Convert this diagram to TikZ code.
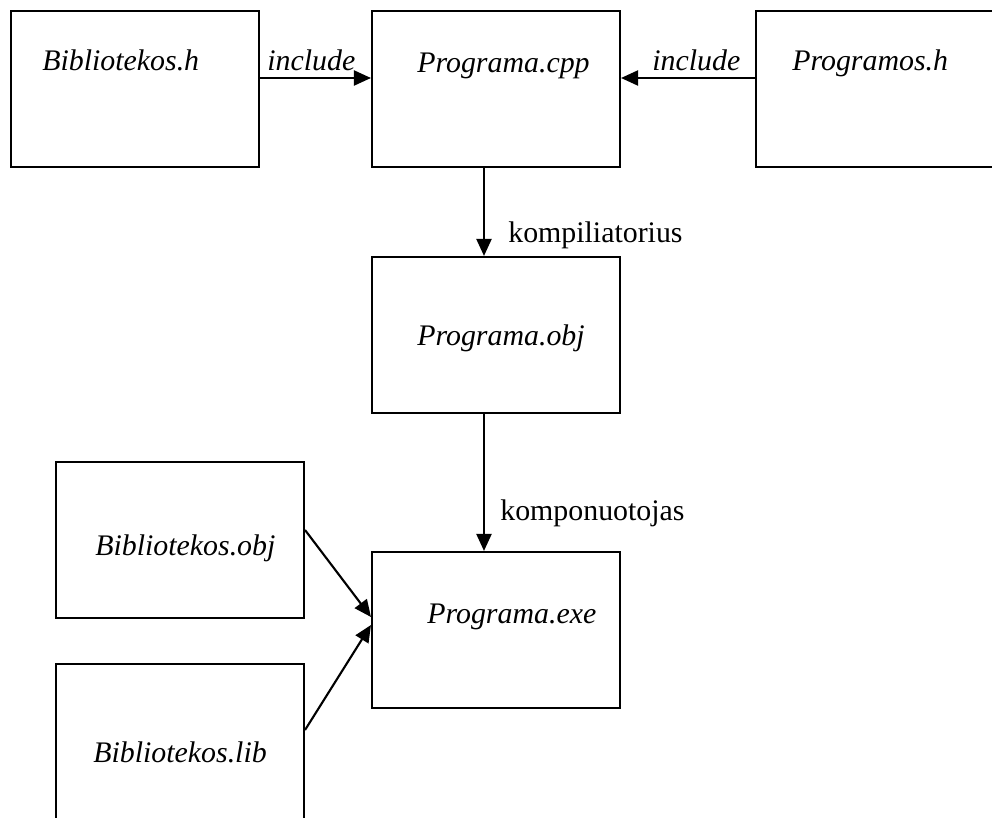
\documentclass[tikz,border=0pt]{standalone}
\usepackage{fontspec}
\setmainfont{Liberation Serif}
\usetikzlibrary{calc,arrows.meta}

\begin{document}
\begin{tikzpicture}[x=0.02cm, y=-0.02cm]
      \tikzstyle{box}=[draw, line width=1.2pt, minimum width=4.96cm, minimum height=3.12cm, inner sep=0];
      \tikzstyle{fname}=[anchor=base west, inner sep=0, font=\fontsize{17}{20}\selectfont\itshape];
      \tikzstyle{tool}=[anchor=base west, inner sep=0, font=\fontsize{17}{20}\selectfont];
      \tikzstyle{arr}=[line width=1.2pt, -{Triangle[length=0.34cm, width=0.3cm]}];

      \useasboundingbox (0, 0) rectangle (992, 818);
      \clip (0, 0) rectangle (992, 818);

      % boxes
      \node[box] (bibh) at (135, 89) {};
      \node[box] (cpp) at (496, 89) {};
      \node[box] (progh) at (880, 89) {};
      \node[box] (obj) at (496, 335) {};
      \node[box] (exe) at (496, 630) {};
      \node[box] (bobj) at (180, 540) {};
      \node[box] (blib) at (180, 742) {};

      % file names
      \node[fname] (bibhtxt) at (42, 71) {Bibliotekos.h};
      \node[fname] (cpptxt) at (417, 72) {Programa.cpp};
      \node[fname] (proghtxt) at (792, 71) {Programos.h};
      \node[fname] (objtxt) at (417, 345) {Programa.obj};
      \node[fname] (exetxt) at (427, 623) {Programa.exe};
      \node[fname] (bobjtxt) at (95, 555) {Bibliotekos.obj};
      \node[fname] (blibtxt) at (93, 762) {Bibliotekos.lib};

      % connectors
      \draw[arr] ($(bibh.east) + (0, -11)$) -- ($(cpp.west) + (0, -11)$);
      \draw[arr] ($(progh.west) + (0, -11)$) -- ($(cpp.east) + (0, -11)$);
      \draw[arr] ($(cpp.south) + (-12, 0)$) -- ($(obj.north) + (-12, 0)$);
      \draw[arr] ($(obj.south) + (-12, 0)$) -- ($(exe.north) + (-12, 0)$);
      \draw[arr] ($(bobj.east) + (0, -10)$) -- ($(exe.west) + (0, -13)$);
      \draw[arr] ($(blib.east) + (0, -12)$) -- ($(exe.west) + (0, -5)$);

      \node[fname] (inc1) at (267, 71) {include};
      \node[fname] (inc2) at (652, 71) {include};
      \node[tool] (comp) at (508, 242) {kompiliatorius};
      \node[tool] (link) at (500, 520) {komponuotojas};
\end{tikzpicture}
\end{document}
